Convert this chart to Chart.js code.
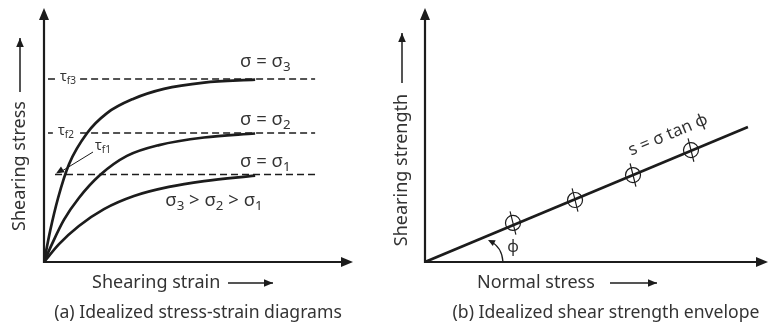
<!DOCTYPE html>
<html>
<head>
<meta charset="utf-8">
<script src="https://cdn.jsdelivr.net/npm/chart.js@4.4.0/dist/chart.umd.min.js"></script>
<style>
  html, body { margin: 0; padding: 0; background: #fff; }
  .wrap { position: relative; width: 768px; height: 328px; overflow: hidden; }
  .wrap canvas { position: absolute; top: 0; }
  #stressStrain { left: 0; }
  #envelope { left: 384px; }
</style>
</head>
<body>
<div class="wrap">
  <canvas id="stressStrain" width="384" height="328"></canvas>
  <canvas id="envelope" width="384" height="328"></canvas>
</div>
<script>
// ===== DATA (a) stress-strain curves =====
const strainS1 = [0, 4.9, 11.4, 19.6, 29.4, 40.8, 52.3, 69.0];
const stressS1 = [0, 7.1, 14.3, 21.0, 26.2, 29.8, 32.1, 34.3];
const strainS2 = [0, 2.6, 6.5, 11.4, 18.3, 27.1, 37.6, 52.3, 69.0];
const stressS2 = [0, 7.1, 16.7, 25.4, 34.5, 42.1, 46.4, 49.4, 51.0];
const strainS3 = [0, 2.0, 4.6, 8.2, 14.1, 20.6, 29.1, 39.2, 52.3, 69.0];
const stressS3 = [0, 12.3, 25.4, 38.9, 51.2, 59.1, 64.7, 68.7, 71.2, 72.4];

// peak (failure) stresses, shown as dashed lines
const tauF = [34.7, 51.2, 72.6];
const tauLabels = ["f1", "f2", "f3"];
// dashed line pieces [from, to] along strain, gaps leave room for the labels
const tauDashX = [
  [[3.6, 88.6]],
  [[1.3, 2.9], [11.8, 88.6]],
  [[1.3, 3.6], [11.8, 88.6]]
];

// ===== DATA (b) shear strength envelope =====
const envelopeX = [0, 94.7];
const envelopeY = [0, 53.6];
const testNormal = [25.8, 44.0, 61.0, 78.0];
const testShear = [15.5, 24.6, 34.5, 44.4];

const ink = "#1c1c1c";
const textInk = "#333";
const FONT = '"Noto Sans", "Open Sans", sans-serif';

function pts(xs, ys) {
  return xs.map((x, i) => ({ x: x, y: ys[i] }));
}

function dashedPoints(pieces, y) {
  const out = [];
  pieces.forEach((p, i) => {
    if (i > 0) out.push({ x: (pieces[i - 1][1] + p[0]) / 2, y: null });
    out.push({ x: p[0], y: y }, { x: p[1], y: y });
  });
  return out;
}

// ====== DRAW HELPERS ======
function arrowHead(ctx, x, y, ang, len, half) {
  ctx.save();
  ctx.translate(x, y);
  ctx.rotate(ang);
  ctx.beginPath();
  ctx.moveTo(0, 0);
  ctx.lineTo(-len, -half);
  ctx.lineTo(-len, half);
  ctx.closePath();
  ctx.fillStyle = ink;
  ctx.fill();
  ctx.restore();
}

function arrowLine(ctx, x1, y1, x2, y2, w) {
  ctx.save();
  ctx.strokeStyle = ink;
  ctx.lineWidth = w || 1.5;
  ctx.beginPath();
  ctx.moveTo(x1, y1);
  ctx.lineTo(x2, y2);
  ctx.stroke();
  ctx.restore();
  arrowHead(ctx, x2, y2, Math.atan2(y2 - y1, x2 - x1), 9, 3.8);
}

// parts: [text, isSubscript]
function subText(ctx, parts, x, y, size, align) {
  ctx.save();
  ctx.fillStyle = textInk;
  ctx.textBaseline = "middle";
  ctx.textAlign = "left";
  let total = 0;
  parts.forEach(p => {
    ctx.font = (p[1] ? size * 0.72 : size) + "px " + FONT;
    total += ctx.measureText(p[0]).width;
  });
  let cx = align === "center" ? x - total / 2 : x;
  parts.forEach(p => {
    ctx.font = (p[1] ? size * 0.72 : size) + "px " + FONT;
    ctx.fillText(p[0], cx, p[1] ? y + size * 0.3 : y);
    cx += ctx.measureText(p[0]).width;
  });
  ctx.restore();
}

function plainText(ctx, text, x, y, size, align, rot) {
  ctx.save();
  ctx.fillStyle = textInk;
  ctx.font = size + "px " + FONT;
  ctx.textAlign = align || "left";
  ctx.textBaseline = "middle";
  ctx.translate(x, y);
  if (rot) ctx.rotate(rot);
  ctx.fillText(text, 0, 0);
  ctx.restore();
}

function drawAxes(chart, tipTop, tipRight) {
  const ctx = chart.ctx;
  const a = chart.chartArea;
  ctx.save();
  ctx.strokeStyle = ink;
  ctx.lineWidth = 2.2;
  ctx.beginPath();
  ctx.moveTo(a.left, tipTop + 6);
  ctx.lineTo(a.left, a.bottom);
  ctx.lineTo(tipRight - 6, a.bottom);
  ctx.stroke();
  ctx.restore();
  arrowHead(ctx, a.left, tipTop, -Math.PI / 2, 12, 5);
  arrowHead(ctx, tipRight, a.bottom, 0, 12, 5);
}

// ====== (a) annotations ======
const panelA = {
  id: "panelA",
  afterDatasetsDraw(chart) {
    const ctx = chart.ctx;
    const ys = chart.scales.y;
    drawAxes(chart, 8, 353);

    // axis titles
    plainText(ctx, "Shearing stress", 20, 166, 18, "center", -Math.PI / 2);
    arrowLine(ctx, 20, 92, 20, 38);
    plainText(ctx, "Shearing strain", 92, 283, 18, "left");
    arrowLine(ctx, 228, 283, 273, 283);
    plainText(ctx, "(a) Idealized stress-strain diagrams", 198, 313, 17.6, "center");

    // confining stress labels
    subText(ctx, [["\u03c3 = \u03c3", false], ["3", true]], 240, 62, 18.5, "left");
    subText(ctx, [["\u03c3 = \u03c3", false], ["2", true]], 240, 120, 18.5, "left");
    subText(ctx, [["\u03c3 = \u03c3", false], ["1", true]], 240, 162, 18.5, "left");
    subText(ctx, [["\u03c3", false], ["3", true], [" > \u03c3", false], ["2", true], [" > \u03c3", false], ["1", true]], 214, 201, 18.5, "center");

    // peak stress labels
    subText(ctx, [["\u03c4", false], [tauLabels[2], true]], 60, ys.getPixelForValue(tauF[2]) - 2, 14, "left");
    subText(ctx, [["\u03c4", false], [tauLabels[1], true]], 58, ys.getPixelForValue(tauF[1]) - 2, 14, "left");
    subText(ctx, [["\u03c4", false], [tauLabels[0], true]], 95, 146, 14, "left");
    ctx.save();
    ctx.strokeStyle = ink;
    ctx.lineWidth = 1;
    ctx.beginPath();
    ctx.moveTo(93, 152);
    ctx.lineTo(62, 171);
    ctx.stroke();
    ctx.restore();
    arrowHead(ctx, 56, ys.getPixelForValue(tauF[0]) - 1, Math.atan2(19, -31), 8, 3.5);
  }
};

const dashStyle = {
  type: "line",
  borderColor: ink,
  borderWidth: 1.4,
  borderDash: [7, 4],
  pointRadius: 0,
  spanGaps: false
};
const curveStyle = {
  type: "line",
  borderColor: ink,
  borderWidth: 2.7,
  pointRadius: 0,
  cubicInterpolationMode: "monotone"
};

new Chart(document.getElementById("stressStrain"), {
  type: "scatter",
  data: {
    datasets: [
      Object.assign({ data: dashedPoints(tauDashX[0], tauF[0]) }, dashStyle),
      Object.assign({ data: dashedPoints(tauDashX[1], tauF[1]) }, dashStyle),
      Object.assign({ data: dashedPoints(tauDashX[2], tauF[2]) }, dashStyle),
      Object.assign({ data: pts(strainS1, stressS1) }, curveStyle),
      Object.assign({ data: pts(strainS2, stressS2) }, curveStyle),
      Object.assign({ data: pts(strainS3, stressS3) }, curveStyle)
    ]
  },
  options: {
    responsive: false,
    animation: false,
    layout: { autoPadding: false, padding: { left: 44, right: 34, top: 10, bottom: 66 } },
    plugins: { legend: { display: false }, tooltip: { enabled: false } },
    scales: {
      x: { type: "linear", min: 0, max: 100, display: false },
      y: { type: "linear", min: 0, max: 100, display: false }
    }
  },
  plugins: [panelA]
});

// ====== (b) annotations ======
const panelB = {
  id: "panelB",
  afterDatasetsDraw(chart) {
    const ctx = chart.ctx;
    const xs = chart.scales.x, ys = chart.scales.y;
    drawAxes(chart, 8, 384);

    plainText(ctx, "Shearing strength", 18, 170, 18, "center", -Math.PI / 2);
    arrowLine(ctx, 18, 83, 18, 33);
    plainText(ctx, "Normal stress", 93, 283, 18, "left");
    arrowLine(ctx, 226, 283, 273, 283);
    plainText(ctx, "(b) Idealized shear strength envelope", 222, 313, 17.6, "center");

    // envelope label, along the line
    const ang = Math.atan2(ys.getPixelForValue(envelopeY[1]) - ys.getPixelForValue(0),
                           xs.getPixelForValue(envelopeX[1]) - xs.getPixelForValue(0));
    plainText(ctx, "s = \u03c3 tan \u03d5", 284, 135, 17, "center", ang);

    // friction angle arc
    const ox = xs.getPixelForValue(0), oy = ys.getPixelForValue(0);
    ctx.save();
    ctx.strokeStyle = ink;
    ctx.lineWidth = 1.3;
    ctx.beginPath();
    ctx.moveTo(ox + 78, oy);
    ctx.quadraticCurveTo(ox + 77, oy - 15, ox + 65, oy - 21);
    ctx.stroke();
    ctx.restore();
    arrowHead(ctx, ox + 63, oy - 22, Math.atan2(-6, -12), 7, 3.2);
    plainText(ctx, "\u03d5", 129, 247, 16, "center");
  }
};

new Chart(document.getElementById("envelope"), {
  type: "scatter",
  data: {
    datasets: [
      {
        type: "line",
        data: pts(envelopeX, envelopeY),
        borderColor: ink,
        borderWidth: 2.7,
        pointRadius: 0
      },
      {
        data: pts(testNormal, testShear),
        pointStyle: "circle",
        pointRadius: 7.5,
        borderColor: ink,
        borderWidth: 1.2,
        backgroundColor: "rgba(0,0,0,0)"
      },
      {
        data: pts(testNormal, testShear),
        pointStyle: "line",
        pointRotation: 76,
        pointRadius: 12,
        borderColor: ink,
        borderWidth: 1.2
      }
    ]
  },
  options: {
    responsive: false,
    animation: false,
    layout: { autoPadding: false, padding: { left: 41, right: 2, top: 10, bottom: 66 } },
    plugins: { legend: { display: false }, tooltip: { enabled: false } },
    scales: {
      x: { type: "linear", min: 0, max: 100, display: false },
      y: { type: "linear", min: 0, max: 100, display: false }
    }
  },
  plugins: [panelB]
});
</script>
</body>
</html>
